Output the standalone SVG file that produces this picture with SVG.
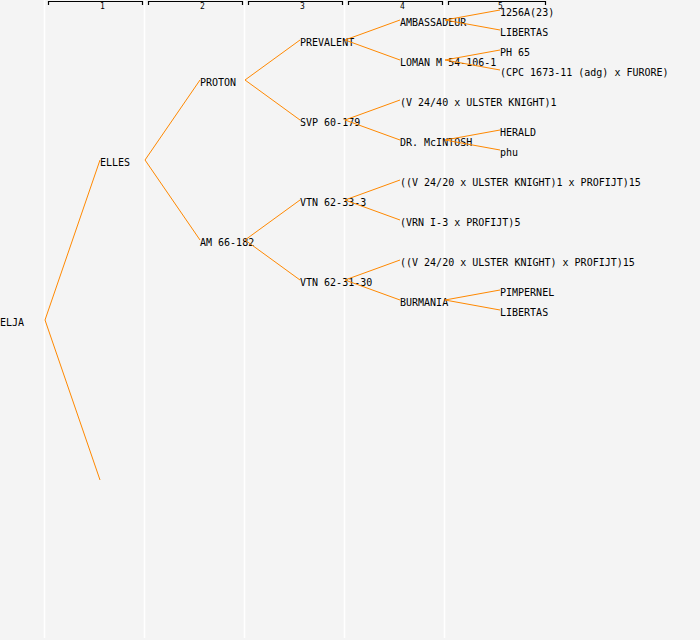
<svg xmlns="http://www.w3.org/2000/svg" width="700" height="640" viewBox="0 0 700 640">
<style>
.bg{fill:#f4f4f4}
.col{stroke:#ffffff;stroke-width:1.5}
.hdr{fill:none;stroke:#000;stroke-width:1.2}
.hl{font-family:"DejaVu Sans Mono","Liberation Mono",monospace;font-size:8px;fill:#000;text-anchor:middle}
.n text{font-family:"DejaVu Sans Mono","Liberation Mono",monospace;font-size:10px;fill:#000}
#connectors path{fill:none;stroke:#ff8800;stroke-width:1}
</style>
<rect class="bg" x="0" y="0" width="700" height="640"/>
<g id="grid">
<line class="col" x1="44.5" y1="0" x2="44.5" y2="638"/>
<line class="col" x1="144.5" y1="0" x2="144.5" y2="638"/>
<line class="col" x1="244.5" y1="0" x2="244.5" y2="638"/>
<line class="col" x1="344.5" y1="0" x2="344.5" y2="638"/>
<line class="col" x1="444.5" y1="0" x2="444.5" y2="638"/>
</g>
<g id="header">
<path class="hdr" d="M48.5,5 V1.5 H142.5 V5"/>
<path class="hdr" d="M148.5,5 V1.5 H242.5 V5"/>
<path class="hdr" d="M248.5,5 V1.5 H342.5 V5"/>
<path class="hdr" d="M348.5,5 V1.5 H442.5 V5"/>
<path class="hdr" d="M448.5,5 V1.5 H545.5 V5"/>
<text class="hl" x="102.5" y="9">1</text>
<text class="hl" x="202.5" y="9">2</text>
<text class="hl" x="302.5" y="9">3</text>
<text class="hl" x="402.5" y="9">4</text>
<text class="hl" x="500.5" y="9">5</text>
</g>
<g id="n-elja" class="n"><text x="0" y="326">ELJA</text></g>
<g id="n-elles" class="n"><text x="100" y="166">ELLES</text></g>
<g id="n-proton" class="n"><text x="200" y="86">PROTON</text></g>
<g id="n-am66182" class="n"><text x="200" y="246">AM 66-182</text></g>
<g id="n-prevalent" class="n"><text x="300" y="46">PREVALENT</text></g>
<g id="n-svp" class="n"><text x="300" y="126">SVP 60-179</text></g>
<g id="n-vtn33" class="n"><text x="300" y="206">VTN 62-33-3</text></g>
<g id="n-vtn31" class="n"><text x="300" y="286">VTN 62-31-30</text></g>
<g id="n-ambassadeur" class="n"><text x="400" y="26">AMBASSADEUR</text></g>
<g id="n-loman" class="n"><text x="400" y="66">LOMAN M 54-106-1</text></g>
<g id="n-v2440" class="n"><text x="400" y="106">(V 24/40 x ULSTER KNIGHT)1</text></g>
<g id="n-mcintosh" class="n"><text x="400" y="146">DR. McINTOSH</text></g>
<g id="n-v2420a" class="n"><text x="400" y="186">((V 24/20 x ULSTER KNIGHT)1 x PROFIJT)15</text></g>
<g id="n-vrn" class="n"><text x="400" y="226">(VRN I-3 x PROFIJT)5</text></g>
<g id="n-v2420b" class="n"><text x="400" y="266">((V 24/20 x ULSTER KNIGHT) x PROFIJT)15</text></g>
<g id="n-burmania" class="n"><text x="400" y="306">BURMANIA</text></g>
<g id="n-1256a" class="n"><text x="500" y="16">1256A(23)</text></g>
<g id="n-libertas1" class="n"><text x="500" y="36">LIBERTAS</text></g>
<g id="n-ph65" class="n"><text x="500" y="56">PH 65</text></g>
<g id="n-cpc" class="n"><text x="500" y="76">(CPC 1673-11 (adg) x FURORE)</text></g>
<g id="n-herald" class="n"><text x="500" y="136">HERALD</text></g>
<g id="n-phu" class="n"><text x="500" y="156">phu</text></g>
<g id="n-pimpernel" class="n"><text x="500" y="296">PIMPERNEL</text></g>
<g id="n-libertas2" class="n"><text x="500" y="316">LIBERTAS</text></g>
<g id="connectors">
<path d="M100,160 L45,320 L100,480"/>
<path d="M200,80 L145,160 L200,240"/>
<path d="M300,40 L245,80 L300,120"/>
<path d="M300,200 L245,240 L300,280"/>
<path d="M400,20 L345,40 L400,60"/>
<path d="M400,100 L345,120 L400,140"/>
<path d="M400,180 L345,200 L400,220"/>
<path d="M400,260 L345,280 L400,300"/>
<path d="M500,10 L445,20 L500,30"/>
<path d="M500,50 L445,60 L500,70"/>
<path d="M500,130 L445,140 L500,150"/>
<path d="M500,290 L445,300 L500,310"/>
</g>
</svg>
